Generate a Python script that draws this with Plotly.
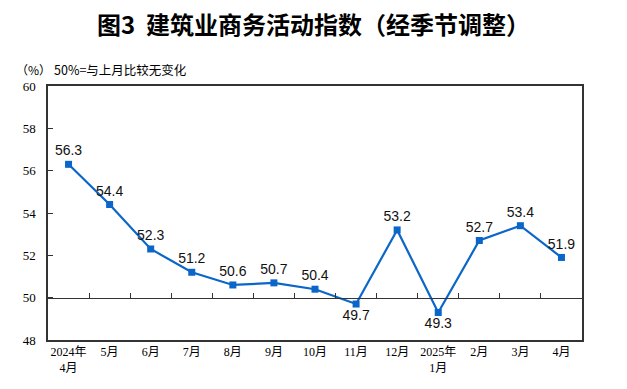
import plotly.graph_objects as go

categories = ["2024年<br>4月", "5月", "6月", "7月", "8月", "9月", "10月", "11月", "12月",
              "2025年<br>1月", "2月", "3月", "4月"]
values = [56.3, 54.4, 52.3, 51.2, 50.6, 50.7, 50.4, 49.7, 53.2, 49.3, 52.7, 53.4, 51.9]
label_pos = ["top center"] * 7 + ["bottom center", "top center", "bottom center",
                                  "top center", "top center", "top center"]
y_ticks = [48, 50, 52, 54, 56, 58, 60]

BLUE = "#0a66c8"
fig = go.Figure()
fig.add_trace(go.Scatter(
    x=categories, y=values, mode="lines+markers+text",
    line=dict(color=BLUE, width=2.2),
    marker=dict(symbol="square", size=7, color=BLUE),
    text=[f"{v:.1f}" for v in values], textposition=label_pos,
    textfont=dict(family="Liberation Sans, Arial", size=14, color="#111"),
    cliponaxis=False, showlegend=False,
))
# invisible trace for the baseline axis at 50
fig.add_trace(go.Scatter(x=categories, y=values, xaxis="x2", mode="markers",
                         marker=dict(opacity=0), hoverinfo="skip", showlegend=False))

fig.update_layout(
    width=627, height=389,
    margin=dict(l=48, r=45, t=86, b=49),
    paper_bgcolor="white", plot_bgcolor="white",
    title=dict(text="<b>图3  建筑业商务活动指数（经季节调整）</b>", x=0.5, xanchor="center",
               y=0.935, yanchor="middle",
               font=dict(family="Noto Sans CJK SC", size=24, color="#000")),
    xaxis=dict(type="category", range=[-0.5, 12.5], showline=True, linecolor="#333",
               linewidth=1.5, mirror=True, ticks="", showgrid=False, automargin=False,
               tickfont=dict(family="Liberation Serif, Noto Sans CJK SC", size=12, color="#000")),
    xaxis2=dict(type="category", overlaying="x", anchor="free", position=(50 - 48) / 12,
                range=[-0.5, 12.5], showline=True, linecolor="#333", linewidth=1.2,
                ticks="inside", ticklen=5, tickcolor="#333", tickson="boundaries",
                showticklabels=False, showgrid=False, automargin=False),
    yaxis=dict(range=[48, 60], tickvals=y_ticks, showline=True, linecolor="#333",
               linewidth=1.5, mirror=True, ticks="inside", ticklen=5, tickcolor="#333",
               showgrid=False, zeroline=False, ticklabelstandoff=8, automargin=False,
               tickfont=dict(family="Liberation Serif", size=13, color="#000")),
    annotations=[
        dict(text="（%）", x=14, y=70, xref="paper", yref="paper", showarrow=False,
             xanchor="left", yanchor="middle", font=dict(family="Noto Sans CJK SC", size=12, color="#000")),
        dict(text="50%=与上月比较无变化", x=52, y=70, xref="paper", yref="paper", showarrow=False,
             xanchor="left", yanchor="middle", font=dict(family="Noto Sans CJK SC", size=12.5, color="#000")),
    ],
)
# convert pixel annotation positions to paper coordinates
pw, ph = 627 - 48 - 45, 389 - 86 - 49
for a in fig.layout.annotations:
    a.x = (a.x - 48) / pw
    a.y = (389 - 49 - a.y) / ph

fig.write_html("out.html", config={"displayModeBar": False},
               post_script="document.body.style.margin='0';")
